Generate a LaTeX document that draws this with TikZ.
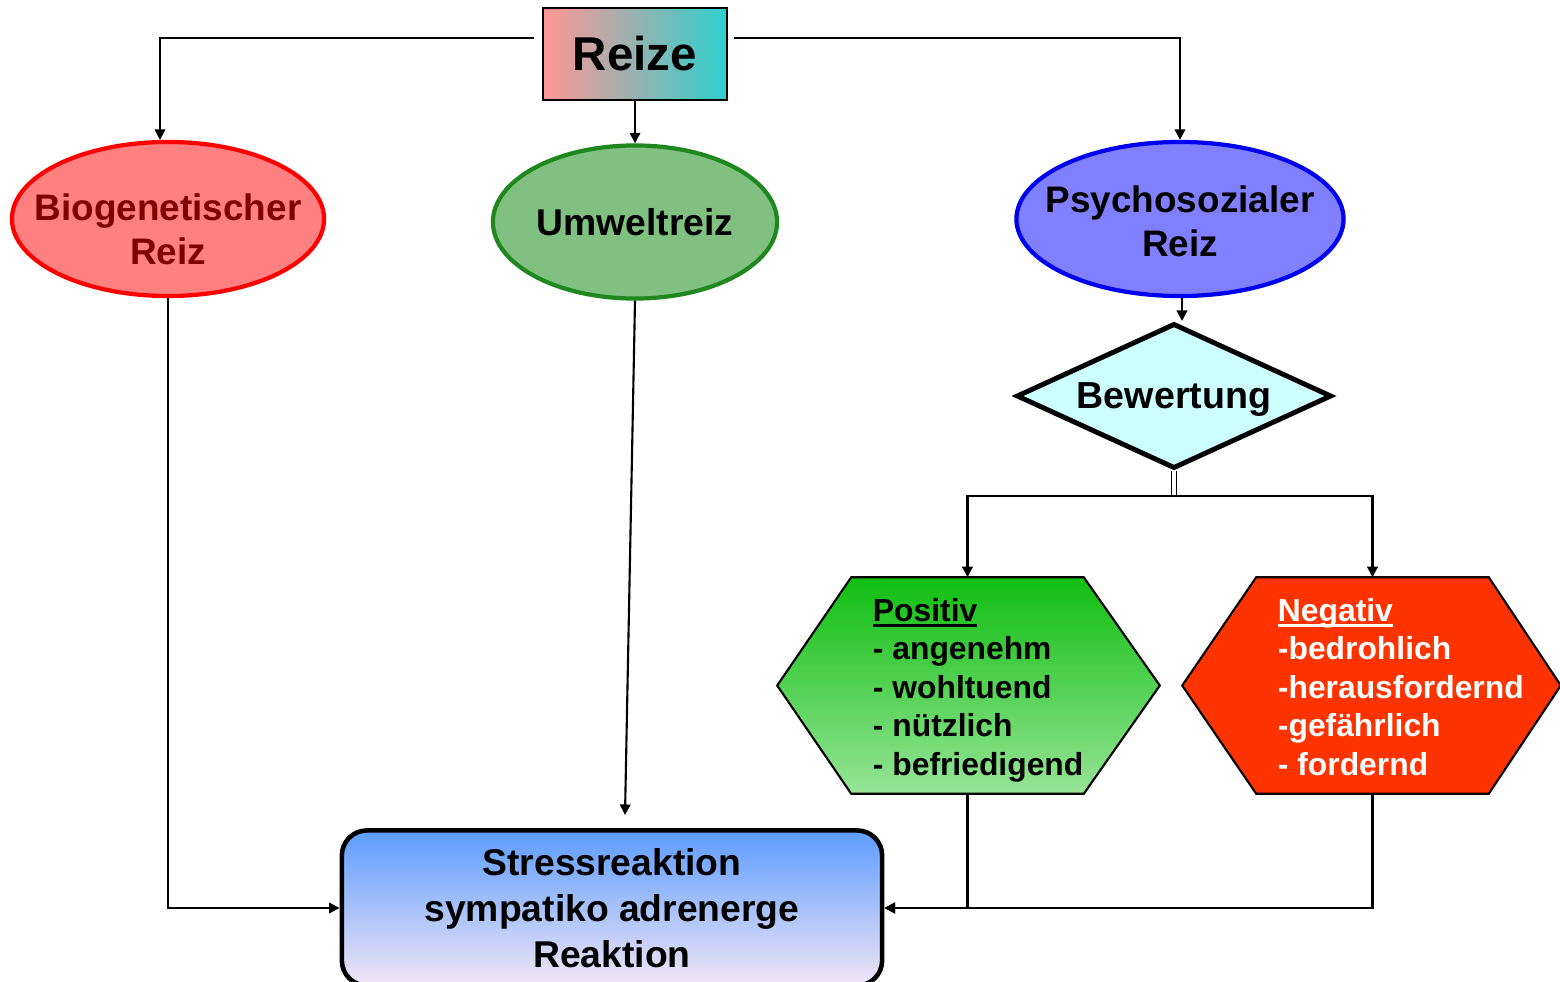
\documentclass[tikz,border=0pt]{standalone}
\usepackage{fontspec}
\setmainfont{Liberation Sans}
\usetikzlibrary{arrows.meta,shapes.geometric,positioning,calc}

\definecolor{reizeLeft}{RGB}{255,150,150}
\definecolor{reizeRight}{RGB}{45,208,205}
\definecolor{bioFill}{RGB}{255,128,128}
\definecolor{bioLine}{RGB}{255,0,0}
\definecolor{bioText}{RGB}{128,0,0}
\definecolor{umwFill}{RGB}{128,192,128}
\definecolor{umwLine}{RGB}{30,135,30}
\definecolor{psyFill}{RGB}{128,128,255}
\definecolor{psyLine}{RGB}{0,0,240}
\definecolor{bewFill}{RGB}{204,255,255}
\definecolor{posTop}{RGB}{16,190,16}
\definecolor{posBottom}{RGB}{150,228,150}
\definecolor{negFill}{RGB}{255,51,0}
\definecolor{stressTop}{RGB}{92,156,255}
\definecolor{stressBottom}{RGB}{242,230,245}

% thick underline for the hexagon headings
\newcommand{\hexhead}[1]{\setbox0\hbox{#1}\rlap{\rule[-1.6pt]{\wd0}{0.75pt}}\box0}

\begin{document}
\begin{tikzpicture}[x=0.01cm, y=-0.01cm, >={Triangle[length=3pt,width=3pt]},
  conn/.style={->, line width=0.6pt},
  oval/.style={ellipse, line width=1.2pt, inner sep=0pt, minimum width=3.12cm,
    minimum height=1.54cm},
  ovaltext/.style={inner sep=0pt, align=center, font=\bfseries\fontsize{10.5}{12.6}\selectfont},
  hexframe/.style={rectangle, inner sep=0pt, minimum width=2.31cm, minimum height=2.15cm},
  hexlist/.style={anchor=north west, inner sep=0pt, align=left,
    font=\bfseries\fontsize{9.05}{10.95}\selectfont}]

  \useasboundingbox (0,0) rectangle (1560,982);

  % Reize
  \node[draw, line width=0.8pt, left color=reizeLeft, right color=reizeRight,
    minimum width=1.84cm, minimum height=0.92cm,
    font=\bfseries\fontsize{13.5}{16}\selectfont] (reize) at (635,54) {Reize};

  % Reiz types
  \node[oval, draw=bioLine, fill=bioFill] (bio) at (168,219) {};
  \node[ovaltext, text=bioText] (bioText) at (168,229) {Biogenetischer\\Reiz};
  \node[oval, draw=umwLine, fill=umwFill, minimum width=2.84cm, minimum height=1.53cm] (umw) at (635,222) {};
  \node[ovaltext, font=\bfseries\fontsize{10.6}{12.6}\selectfont] (umwText) at (umw) {Umweltreiz};
  \node[oval, draw=psyLine, fill=psyFill, minimum width=3.27cm] (psy) at (1180,219) {};
  \node[ovaltext] (psyText) at (1180,221) {Psychosozialer\\Reiz};

  % Bewertung
  \node[diamond, draw, line width=1.4pt, fill=bewFill, aspect=2.2, inner sep=0pt,
    minimum width=3.15cm, minimum height=1.45cm, text depth=0pt,
    font=\bfseries\fontsize{10.7}{12.6}\selectfont] (bew) at (1174,396) {Bewertung};

  % Positiv
  \node[hexframe] (pos) at (967.5,685.5) {};
  \shade[top color=posTop, bottom color=posBottom, draw, line width=0.6pt]
    (pos.north west) -- (pos.north east) -- ([xshift=0.76cm]pos.east) -- (pos.south east)
    -- (pos.south west) -- ([xshift=-0.74cm]pos.west) -- cycle;
  \node[hexlist] (posText) at ([shift={(0.21cm,-0.2cm)}]pos.north west)
    {\hexhead{Positiv}\\- angenehm\\- wohltuend\\- nützlich\\- befriedigend};

  % Negativ
  \node[hexframe] (neg) at (1372.5,685.5) {};
  \filldraw[fill=negFill, line width=0.6pt]
    (neg.north west) -- (neg.north east) -- ([xshift=0.72cm]neg.east) -- (neg.south east)
    -- (neg.south west) -- ([xshift=-0.74cm]neg.west) -- cycle;
  \node[hexlist, text=white] (negText) at ([shift={(0.21cm,-0.2cm)}]neg.north west)
    {\hexhead{Negativ}\\-bedrohlich\\-herausfordernd\\-gefährlich\\- fordernd};

  % Stressreaktion
  \node[draw, line width=1.3pt, rounded corners=0.25cm, top color=stressTop, bottom color=stressBottom,
    minimum width=5.4cm, minimum height=1.55cm, align=center,
    font=\bfseries\fontsize{10.6}{13.1}\selectfont] (stress) at (612,908)
    {Stressreaktion\\sympatiko adrenerge\\Reaktion};

  % Connectors
  \draw[conn] ([shift={(-0.08cm,0.16cm)}]reize.west) -| ([xshift=-0.08cm]bio.north);
  \draw[conn] ([shift={(0.06cm,0.16cm)}]reize.east) -| (psy.north);
  \draw[conn] (reize) -- (umw);
  \draw[conn] ([xshift=0.02cm]psy.south) -- ([xshift=0.02cm]psy.south |- bew.north);
  \coordinate (split) at ([yshift=-0.25cm]bew.south);
  \draw[double, double distance=0.9pt, line width=0.5pt] (bew.south) -- (split);
  \draw[conn] (split) -| (pos.north);
  \draw[conn] (split) -| (neg.north);
  \draw[conn] (bio.south) |- (stress.west);
  \coordinate (umwEnd) at (625,815);
  \draw[conn] (umw.south) -- (umwEnd);
  \draw[conn] (pos.south) |- (stress.east);
  \draw[conn] (neg.south) |- (stress.east);
\end{tikzpicture}
\end{document}
